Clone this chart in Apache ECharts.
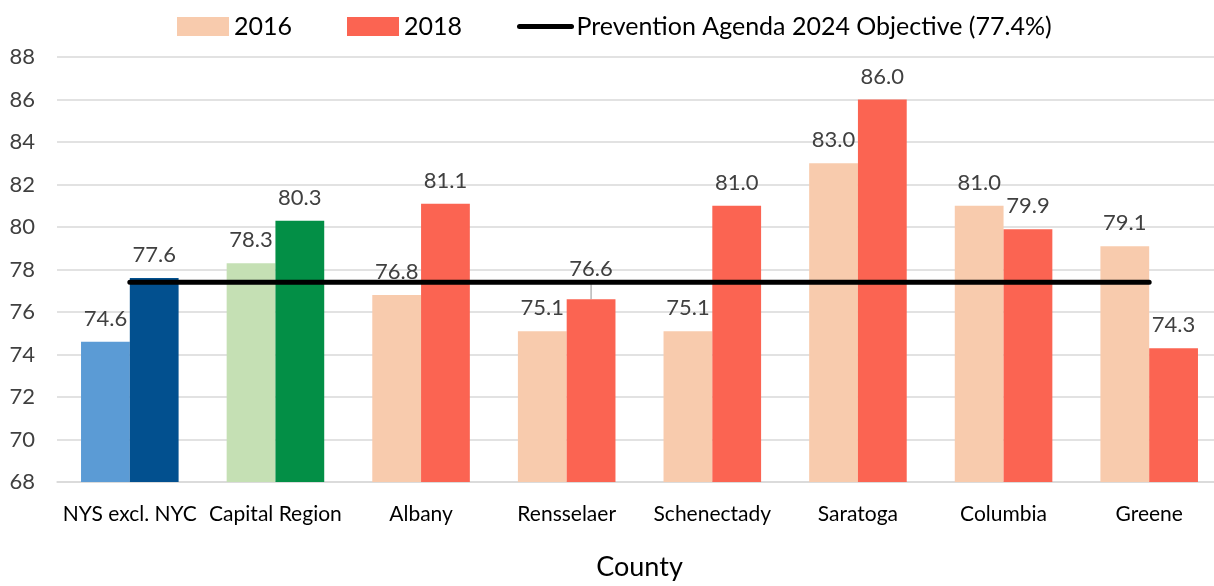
<!DOCTYPE html>
<html>
<head>
<meta charset="utf-8">
<script src="https://cdn.jsdelivr.net/npm/echarts@6/dist/echarts.min.js"></script>
<style>html,body{margin:0;padding:0;background:#fff;overflow:hidden}#c{width:1230px;height:586px}</style>
</head>
<body>
<div id="c"></div>
<script>
const categories = ['NYS excl. NYC', 'Capital Region', 'Albany', 'Rensselaer', 'Schenectady', 'Saratoga', 'Columbia', 'Greene'];
const values2016 = [74.6, 78.3, 76.8, 75.1, 75.1, 83.0, 81.0, 79.1];
const values2018 = [77.6, 80.3, 81.1, 76.6, 81.0, 86.0, 79.9, 74.3];
const objectiveValue = 77.4;
const objectiveName = 'Prevention Agenda 2024 Objective (77.4%)';
const yTicks = { min: 68, max: 88, interval: 2 };

const c2016 = '#F8CBAD', c2018 = '#FB6452';
const colors2016 = ['#5B9BD5', '#C5E0B4'];
const colors2018 = ['#02508F', '#038F46'];
const FONT = 'Lato';

function items(vals, special) {
  return vals.map((v, i) => {
    const o = { value: v };
    if (i < special.length) o.itemStyle = { color: special[i] };
    return o;
  });
}
const d2018 = items(values2018, colors2018);
d2018[3].labelLine = { show: true, lineStyle: { color: '#A6A6A6', width: 1.2 } };

const labelCfg = {
  show: true, position: 'top', distance: 12,
  fontFamily: FONT, fontSize: 22, color: '#404040',
  formatter: p => Number(p.value).toFixed(1)
};

const chart = echarts.init(document.getElementById('c'));
chart.setOption({
  animation: false,
  textStyle: { fontFamily: FONT },
  legend: {
    top: 9, left: 172,
    itemWidth: 52, itemHeight: 19, itemGap: 55,
    textStyle: { fontFamily: FONT, fontSize: 25, color: '#000' },
    data: [
      { name: '2016', icon: 'rect' },
      { name: '2018', icon: 'rect' },
      { name: objectiveName, itemStyle: { opacity: 0 }, lineStyle: { width: 5, cap: 'round', color: '#000', opacity: 1 } }
    ]
  },
  grid: { left: 57, top: 57, right: 8, bottom: 100, containLabel: false },
  xAxis: {
    type: 'category', data: categories,
    name: 'County', nameLocation: 'middle', nameGap: 72,
    nameTextStyle: { fontFamily: FONT, fontSize: 27, color: '#000' },
    axisLine: { lineStyle: { color: '#D9D9D9', width: 1.5 } },
    axisTick: { show: false },
    axisLabel: { fontFamily: FONT, fontSize: 21, color: '#000', margin: 22, interval: 0 }
  },
  yAxis: {
    type: 'value', min: yTicks.min, max: yTicks.max, interval: yTicks.interval,
    axisLine: { show: false }, axisTick: { show: false },
    axisLabel: { fontFamily: FONT, fontSize: 22, color: '#404040', margin: 22 },
    splitLine: { lineStyle: { color: '#D9D9D9', width: 1.5 } }
  },
  series: [
    {
      name: '2016', type: 'bar', data: items(values2016, colors2016),
      itemStyle: { color: c2016 }, barGap: '0%', barCategoryGap: '33%',
      label: labelCfg
    },
    {
      name: '2018', type: 'bar', data: d2018,
      itemStyle: { color: c2018 },
      label: labelCfg,
      labelLayout: p => (p.dataIndex === 3 ? { dy: -7 } : {})
    },
    {
      name: objectiveName, type: 'line', data: categories.map(() => objectiveValue),
      symbol: 'none', z: 5,
      lineStyle: { color: '#000', width: 5, cap: 'round' },
      itemStyle: { color: '#000' }
    }
  ]
});
</script>
</body>
</html>
